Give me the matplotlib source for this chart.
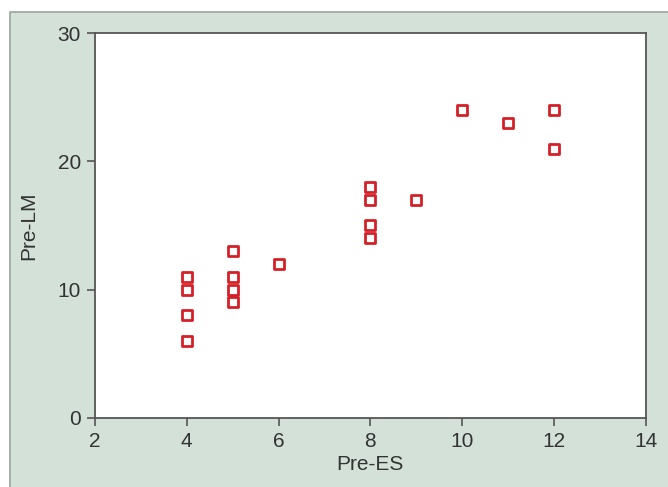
import matplotlib
matplotlib.use('Agg')
import matplotlib.pyplot as plt
from matplotlib.patches import Rectangle

# data
pre_es = [4, 4, 4, 4, 5, 5, 5, 5, 6, 8, 8, 8, 8, 9, 10, 11, 12, 12]
pre_lm = [11, 10, 8, 6, 13, 11, 10, 9, 12, 18, 17, 15, 14, 17, 24, 23, 24, 21]
x_ticks = [2, 4, 6, 8, 10, 12, 14]
y_ticks = [0, 10, 20, 30]

plt.rcParams['font.family'] = ['Liberation Sans', 'DejaVu Sans']

fig = plt.figure(figsize=(6.68, 4.87), dpi=100)
fig.patch.set_facecolor('white')
# green panel behind the plot
panel = Rectangle((0.015, -0.01), 1.0, 0.985, transform=fig.transFigure,
                  facecolor='#d4e1d9', edgecolor='#9aa59e', linewidth=1.2, zorder=-10)
fig.add_artist(panel)

ax = fig.add_axes([0.142, 0.142, 0.825, 0.79])
ax.set_facecolor('white')
ax.scatter(pre_es, pre_lm, marker='s', s=42, facecolors='white',
           edgecolors='#d42027', linewidths=2, zorder=3)

ax.set_xlim(2, 14)
ax.set_ylim(0, 30)
ax.set_xticks(x_ticks)
ax.set_yticks(y_ticks)
ax.tick_params(direction='out', length=6, width=1.2, color='#555555',
               labelsize=15, labelcolor='#333333', pad=4)
for s in ax.spines.values():
    s.set_color('#555555')
    s.set_linewidth(1.3)
ax.set_xlabel('Pre-ES', fontsize=15, color='#333333', labelpad=3)
ax.set_ylabel('Pre-LM', fontsize=15, color='#333333', labelpad=14)

plt.savefig('out.png', dpi=100)
